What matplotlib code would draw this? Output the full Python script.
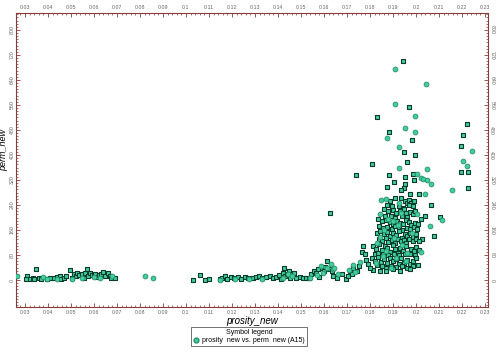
import matplotlib
matplotlib.use("Agg")
import matplotlib.pyplot as plt
from matplotlib.lines import Line2D
from matplotlib.ticker import MultipleLocator

plt.rcParams['font.family'] = ['Liberation Sans', 'DejaVu Sans']

# ---- data ----
sq_low_x = [0.0307,0.0306,0.0322,0.0335,0.0348,0.0340,0.0360,0.0368,0.0395,0.0410,0.0425,0.0440,0.0452,0.0458,0.0470,0.0478,0.0496,0.0505,0.0512,0.0520,0.0528,0.0535,0.0548,0.0555,0.0562,0.0571,0.0575,0.0582,0.0590,0.0598,0.0605,0.0615,0.0622,0.0632,0.0640,0.0650,0.0660,0.0668,0.0675,0.0690]
sq_low_y = [13,2,5,8,34,4,6,2,5,8,6,10,14,2,8,12,32,8,20,12,24,16,20,8,22,34,14,24,16,14,20,10,16,18,26,12,22,14,6,6]

sq_mid_x = [0.1029,0.1061,0.1081,0.1101,0.1150,0.1158,0.1168,0.1180,0.1195,0.1210,0.1225,0.1240,0.1255,0.1268,0.1290,0.1305,0.1318,0.1332,0.1350,0.1365,0.1380,0.1390,0.1405,0.1415,0.1426,0.1420,0.1432,0.1438,0.1446,0.1452,0.1460,0.1470,0.1478,0.1496,
            0.1510,0.1523,0.1535,0.1545,0.1555,0.1565,0.1575,0.1580,0.1590,0.1600,0.1612,0.1605,0.1620,0.1635,0.1626,0.1640,0.1655,0.1680,0.1696,0.1705,0.1712,0.1720,0.1728,0.1740,0.1745,0.1752,0.1765,0.1768,0.1777,0.1783,0.1790]
sq_mid_y = [0,17,0,2,2,8,14,4,10,6,10,4,10,6,6,10,14,6,10,14,6,10,16,4,40,24,12,20,28,8,20,22,6,11,
            6,6,6,20,30,22,34,10,38,28,62,42,36,30,215,12,8,18,2,14,28,20,40,337,28,44,90,110,82,64,52]

sq_cl_x = [0.1874,0.1948,0.1936,0.2014,0.1975,0.1907,0.1933,0.1888,0.1953,0.1962,0.1970,0.1980,0.1990,0.1985,0.1968,0.1875,0.1895,0.1925,0.1942,0.2067,
           0.1860,0.1880,0.1900,0.1915,0.1930,0.1948,0.1958,0.1972,0.1985,0.1995,0.2038,0.2103,0.1865,0.1890,0.1910,0.1940,0.1962,0.2020,
           0.1835,0.1850,0.1868,0.1885,0.1900,0.1918,0.1932,0.1945,0.1955,0.1968,0.1980,0.1995,0.2010,0.1840,0.1858,0.1875,0.1895,0.1908,0.1925,0.1940,0.1960,0.1975,0.1990,0.2005,
           0.1830,0.1845,0.1860,0.1872,0.1888,0.1900,0.1915,0.1928,0.1938,0.1950,0.1962,0.1975,0.1988,0.2000,0.2027,0.2078,0.1838,0.1852,0.1868,0.1880,0.1895,0.1910,0.1922,0.1935,0.1948,0.1958,0.1970,0.1985,0.1998,0.2012,
           0.1812,0.1825,0.1840,0.1852,0.1865,0.1876,0.1888,0.1898,0.1910,0.1920,0.1932,0.1945,0.1955,0.1965,0.1978,0.1990,0.2002,0.2015,0.1820,0.1835,0.1858,0.1880,0.1905,0.1928,0.1950,0.1972,0.1995,
           0.1808,0.1822,0.1836,0.1848,0.1862,0.1874,0.1886,0.1898,0.1912,0.1924,0.1936,0.1948,0.1960,0.1972,0.1985,0.1998,0.1830,0.1852,0.1870,0.1890,0.1915,0.1940,0.1962,0.1985,0.2008,
           0.1815,0.1845,0.1868,0.1900,0.1930,0.1975,0.1800]
sq_cl_y = [298,295,287,276,275,263,263,254,254,248,256,246,252,236,240,240,236,238,232,240,
           226,220,224,214,222,228,216,218,210,222,206,203,206,204,200,206,202,196,
           194,188,192,186,180,190,184,178,192,186,176,184,178,172,166,170,162,172,166,160,168,162,170,164,
           150,156,146,154,140,150,144,156,136,148,140,152,138,146,131,142,130,124,134,122,128,120,132,124,128,120,130,124,132,126,
           108,100,114,96,110,102,90,112,98,86,104,94,110,88,100,92,106,96,84,88,82,80,84,80,82,84,80,
           70,62,74,58,68,54,72,60,66,52,70,56,64,50,62,72,48,44,40,46,42,46,40,44,48,
           32,30,28,34,30,36,38]

sq_hi_x = [0.1942,0.1968,0.1830,0.2220,0.1883,0.2203,0.1983,0.2196,0.1949,0.1996,0.1961,0.1809,0.2196,0.2226,0.1883,0.1987,0.1951,0.1990,0.1904,0.1951,0.2226]
sq_hi_y = [702,555,523,499,474,465,449,428,411,400,379,371,347,347,337,338,330,319,315,306,295]

ci_x = [0.0264,0.0380,0.0395,0.0440,0.0505,0.0548,0.0600,0.0628,0.0680,0.0823,0.0855,
        0.1148,0.1215,0.1275,0.1330,0.1420,0.1445,0.1462,
        0.1540,0.1570,0.1585,0.1595,0.1615,0.1629,0.1640,0.1645,0.1660,0.1710,0.1727,0.1735,0.1758,
        0.1849,0.1871,0.1925,0.2006,0.2112,0.2060,0.2023,0.1845,0.1880,0.1920,0.1860,0.1905,0.1940,0.1830,0.1870,0.1915,0.1855,0.1955,0.1825,0.1890,0.1960,0.1982,0.1845,0.1900,0.1935,
        0.1907,0.2043,0.1907,0.1997,0.1951,0.1994,0.1875,0.1925,0.2243,0.2203,0.1927,0.2049,0.2223,0.2006,0.2022,0.2032,0.2047,0.2067,0.2157,0.2041]
ci_y = [13,10,2,4,2,6,10,8,12,13,6,
        0,4,2,2,8,18,14,
        8,16,46,24,40,53,34,40,20,33,49,26,58,
        255,258,245,211,191,172,90,210,196,176,160,134,112,120,92,70,76,60,56,38,88,150,138,190,216,
        674,627,563,525,486,475,455,425,413,381,357,355,364,339,327,322,319,308,287,275]

x_ticks = [0.03,0.04,0.05,0.06,0.07,0.08,0.09,0.1,0.11,0.12,0.13,0.14,0.15,0.16,0.17,0.18,0.19,0.2,0.21,0.22,0.23]
x_ticklabels = ["0.03","0.04","0.05","0.06","0.07","0.08","0.09","0.1","0.11","0.12","0.13","0.14","0.15","0.16","0.17","0.18","0.19","0.2","0.21","0.22","0.23"]
y_ticks = [0,80,160,240,320,400,480,560,640,720,800]

fill = "#3fcf9c"
frame = "#8b3a3a"

fig = plt.figure(figsize=(5.0, 3.52), dpi=100)
ax = fig.add_axes([0.032, 1-307/352, 0.944, (307-13)/352])

sx = sq_low_x + sq_mid_x + sq_cl_x + sq_hi_x
sy = sq_low_y + sq_mid_y + sq_cl_y + sq_hi_y
ax.scatter(sx, sy, marker='s', s=8, c=fill, edgecolors="#0b3b2c", linewidths=0.8, zorder=3)
ax.scatter(ci_x, ci_y, marker='o', s=12, c=fill, edgecolors="#2a8f6c", linewidths=0.6, zorder=3)

ax.set_xlim(0.0261, 0.2313)
ax.set_ylim(-86, 854)

for sp in ax.spines.values():
    sp.set_color(frame)
    sp.set_linewidth(0.8)

ax.set_xticks(x_ticks)
ax.set_xticklabels(x_ticklabels)
ax.set_yticks(y_ticks)
ax.xaxis.set_minor_locator(MultipleLocator(0.002))
ax.yaxis.set_minor_locator(MultipleLocator(10))
ax.tick_params(axis='both', which='both', direction='in', colors=frame, labelcolor="#666666",
               labelsize=3.8, top=True, right=True, labeltop=True, labelright=True)
ax.tick_params(which='major', length=3, width=0.6, pad=2)
ax.tick_params(which='minor', length=1.5, width=0.5)
ax.tick_params(axis='y', which='major', pad=1)
for t in ax.yaxis.get_major_ticks():
    t.label1.set_rotation(90); t.label1.set_va('center')
    t.label2.set_rotation(-90); t.label2.set_va('center')

ax.set_xlabel("prosity_new", fontsize=7, style='italic')
ax.xaxis.set_label_coords(0.5, -0.03)
ax.set_ylabel("perm_new", fontsize=6.5, style='italic')
ax.yaxis.set_label_coords(-0.0175, 0.535)

h = Line2D([], [], marker='o', linestyle='None', markerfacecolor=fill,
           markeredgecolor="#2a8f6c", markersize=3.5)
leg = fig.legend([h], ["prosity  new vs. perm  new (A15)"], title="Symbol legend",
                 loc='upper center', bbox_to_anchor=(0.498, 1-327/352),
                 fontsize=5, title_fontsize=5, frameon=True, fancybox=False,
                 edgecolor="#333333", borderpad=0.25, handletextpad=0.4, handlelength=1.0,
                 borderaxespad=0, labelspacing=0.1)
leg.get_frame().set_linewidth(0.6)
leg._legend_box.sep = 1

fig.savefig("out.png", dpi=100)
